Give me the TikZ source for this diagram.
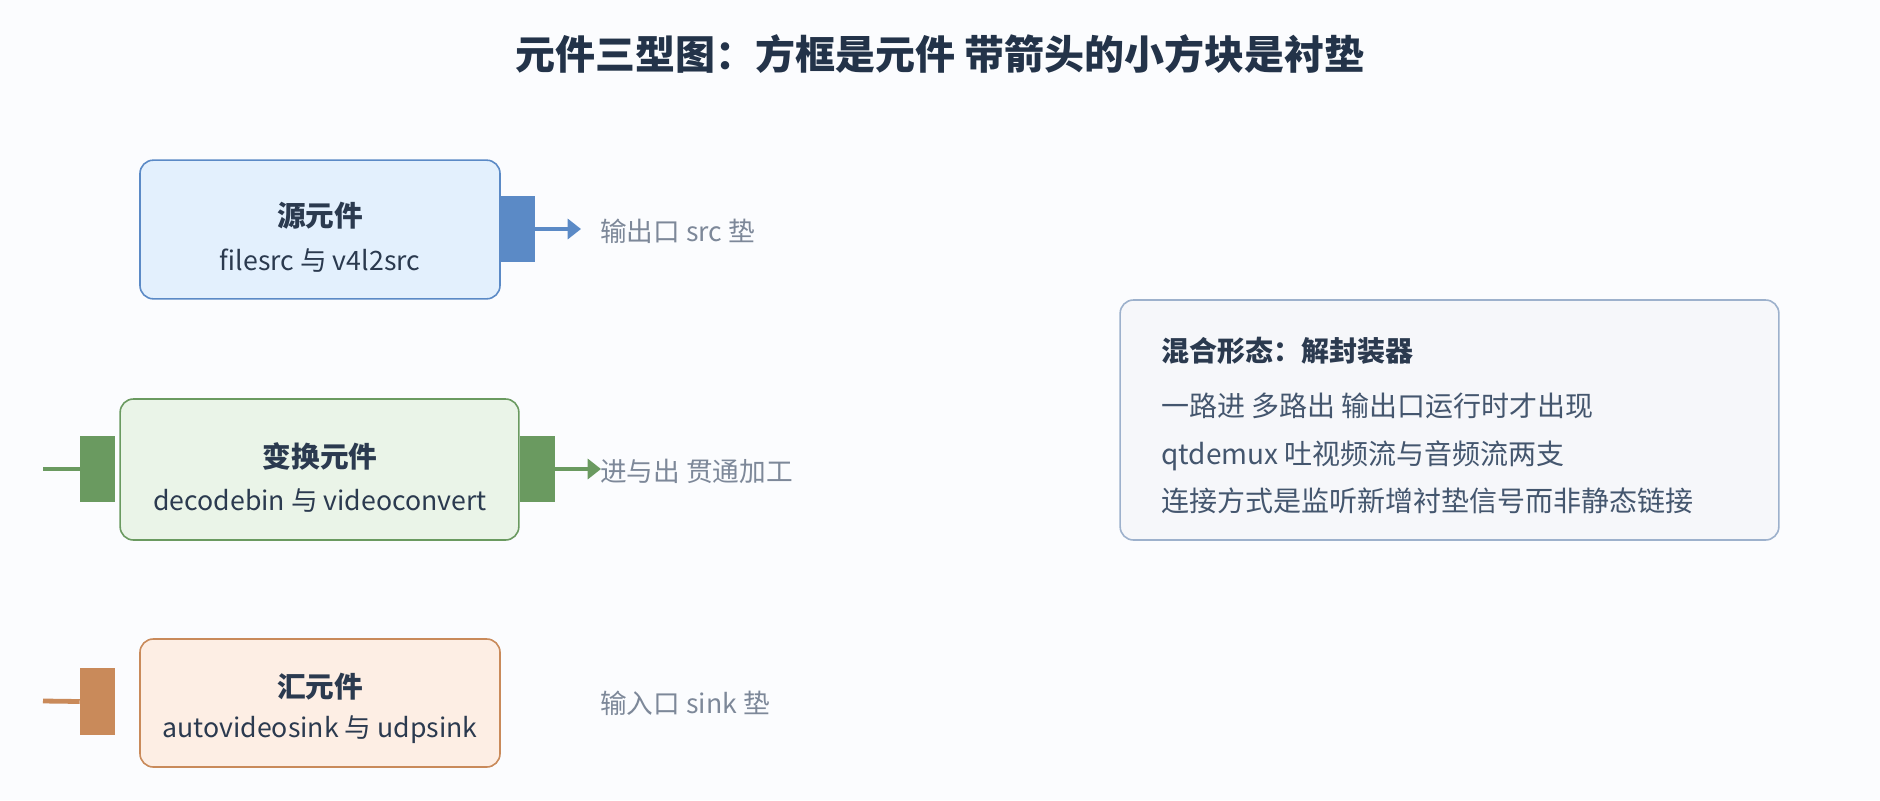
\documentclass[tikz,border=0pt]{standalone}
\usepackage{fontspec}
\setmainfont{Noto Sans CJK SC}
\usetikzlibrary{arrows.meta}
\definecolor{bgc}{HTML}{FBFCFE}
\definecolor{titlec}{HTML}{233349}
\definecolor{bodyc}{HTML}{2B3A4F}
\definecolor{notec}{HTML}{44566E}
\definecolor{labelc}{HTML}{7D8899}
\definecolor{blueS}{HTML}{5B8AC6}\definecolor{blueF}{HTML}{E3F0FD}
\definecolor{greenS}{HTML}{6A9A60}\definecolor{greenF}{HTML}{EAF4E8}
\definecolor{orangeS}{HTML}{C98A5A}\definecolor{orangeF}{HTML}{FDEEE4}
\definecolor{grayS}{HTML}{9DB1CC}\definecolor{grayF}{HTML}{F6F7FA}
\tikzset{
  elem/.style={draw=#1S, fill=#1F, line width=1.2pt, rounded corners=10pt, inner sep=0pt},
  pad/.style={fill=#1, draw=none, inner sep=0pt, minimum width=26.25pt, minimum height=50pt},
  etitle/.style={font=\fontsize{21.5pt}{25pt}\selectfont\bfseries, text=bodyc, inner sep=0pt},
  esub/.style={font=\fontsize{20pt}{24pt}\selectfont, text=bodyc, inner sep=0pt},
  lbl/.style={font=\fontsize{20pt}{24pt}\selectfont, text=labelc, anchor=west, inner sep=0pt},
  mixtitle/.style={font=\fontsize{21pt}{25pt}\selectfont\bfseries, text=bodyc, anchor=west, inner sep=0pt},
  mixline/.style={font=\fontsize{21pt}{25pt}\selectfont, text=notec, anchor=west, inner sep=0pt},
  padline/.style={draw=#1, line width=3.6pt},
  padarrow/.style={draw=#1, line width=3.6pt, -{Triangle[length=10pt,width=15pt]}},
}
\begin{document}
\begin{tikzpicture}[x=0.75pt,y=-0.75pt]
\useasboundingbox (0,0) rectangle (1880,800);
\fill[bgc] (0,0) rectangle (1880,800);

\node[font=\fontsize{30pt}{36pt}\selectfont\bfseries, text=titlec, inner sep=0pt] (title) at (940,54) {元件三型图：方框是元件 带箭头的小方块是衬垫};

% source element
\node[elem=blue, minimum width=270pt, minimum height=104pt] (src) at (320,229.5) {};
\node[etitle] (srct) at (320,216) {源元件};
\node[esub] (srcs) at (320,261) {filesrc 与 v4l2src};
\node[pad=blueS] (srcpad) at (517.5,229) {};
\coordinate (srcend) at (581,229);
\draw[padarrow=blueS] (srcpad.east) -- (srcend);
\node[lbl] (srcl) at (600,231) {输出口 src 垫};

% transform element
\node[elem=green, minimum width=299pt, minimum height=105.75pt] (tr) at (319.5,469.5) {};
\node[etitle] (trt) at (320,456) {变换元件};
\node[esub] (trs) at (320,501) {decodebin 与 videoconvert};
\node[pad=greenS] (trin) at (97.5,469) {};
\node[pad=greenS] (trout) at (537.5,469) {};
\coordinate (trstart) at (43,469);
\coordinate (trend) at (601,469);
\draw[padline=greenS] (trstart) -- (trin.west);
\draw[padarrow=greenS] (trout.east) -- (trend);
\node[lbl] (trl) at (600,471) {进与出 贯通加工};

% sink element
\node[elem=orange, minimum width=270pt, minimum height=96pt] (sk) at (320,703) {};
\node[etitle] (skt) at (320,687) {汇元件};
\node[esub] (sks) at (320,730) {autovideosink 与 udpsink};
\node[pad=orangeS] (skin) at (97.5,701.5) {};
\coordinate (skstart) at (43,701);
\draw[padline=orangeS] (skstart) -- (skin.west);
\node[lbl] (skl) at (600,703) {输入口 sink 垫};

% mixed form
\node[elem=gray, minimum width=494pt, minimum height=180pt] (mix) at (1449.5,420) {};
\node[mixtitle] (mixt) at (1161,351) {混合形态：解封装器};
\node[mixline] (mix1) at (1161,406) {一路进 多路出 输出口运行时才出现};
\node[mixline] (mix2) at (1161,456) {qtdemux 吐视频流与音频流两支};
\node[mixline] (mix3) at (1161,501) {连接方式是监听新增衬垫信号而非静态链接};
\end{tikzpicture}
\end{document}
